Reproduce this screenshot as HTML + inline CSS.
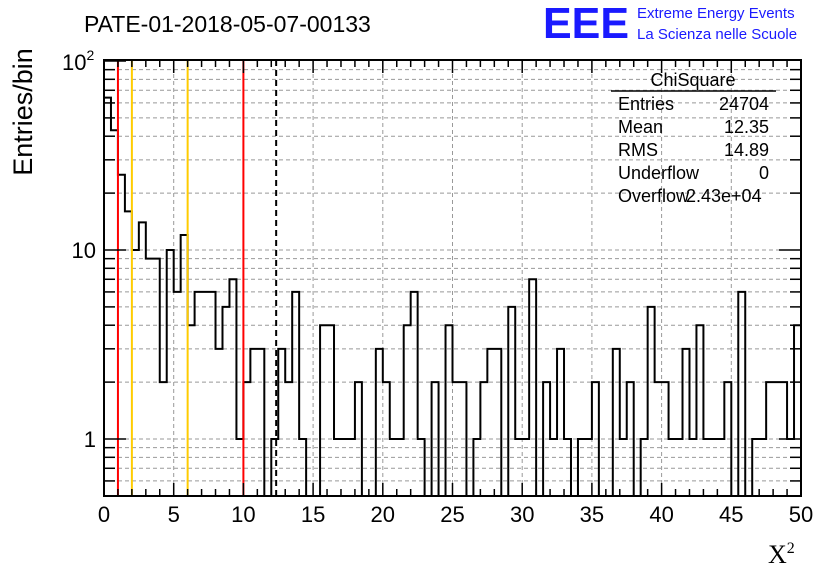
<!DOCTYPE html>
<html><head><meta charset="utf-8"><style>
body{margin:0;background:#fff;}
svg{display:block;font-family:"Liberation Sans",sans-serif;}
</style></head><body>
<svg id="c" width="836" height="572">
<text x="84" y="32" font-size="23">PATE-01-2018-05-07-00133</text>
<g>
<text x="543" y="38" font-size="44" font-weight="bold" fill="#1a1aff" textLength="86" lengthAdjust="spacingAndGlyphs">EEE</text>
<text x="637" y="18" font-size="15" fill="#1a1aff">Extreme Energy Events</text>
<text x="637" y="39" font-size="15" fill="#1a1aff">La Scienza nelle Scuole</text>
</g>
<text transform="translate(32,112) rotate(-90)" text-anchor="middle" font-size="27">Entries/bin</text>
<text x="768" y="563" font-size="26" font-family="Liberation Serif,serif">X<tspan font-size="16" dy="-10">2</tspan></text>
<g id="grid"></g><g id="marks"></g><g id="axes"></g>
<g font-size="18">
<text x="693" y="86" text-anchor="middle">ChiSquare</text>
<line x1="611" y1="91" x2="776" y2="91" stroke="#000" stroke-width="1.5"/>
<text x="618" y="110">Entries</text><text x="769" y="110" text-anchor="end">24704</text>
<text x="618" y="133">Mean</text><text x="769" y="133" text-anchor="end">12.35</text>
<text x="618" y="156">RMS</text><text x="769" y="156" text-anchor="end">14.89</text>
<text x="618" y="179">Underflow</text><text x="769" y="179" text-anchor="end">0</text>
<text x="618" y="202">Overflow</text><text x="686" y="202">2.43e+04</text>
</g>
</svg>
<script>
const counts=[64,43,25,16,10,14,9,9,2,10,6,12,4,6,6,6,3,5,7,1,2,3,3,0,1,3,2,6,1,0,0,4,4,1,1,1,2,0,0,3,2,1,1,4,6,1,0,2,0,4,2,2,0,1,2,3,3,0,5,1,1,7,0,2,1,3,1,0,1,1,2,0,0,3,1,2,0,1,5,2,2,1,1,3,1,4,1,1,1,2,0,6,0,1,1,2,2,2,1,4];
const xTicks=[0,5,10,15,20,25,30,35,40,45,50];
const redLines=[1,10];
const orangeLines=[2,6];
const meanLine=[12.35];
const NS="http://www.w3.org/2000/svg";
const L=104,R=801,T=60,B=496,XMAX=50,YMIN=0.5;
const xs=v=>L+(R-L)*v/XMAX;
const ys=v=>439-189*Math.log10(Math.max(v,YMIN));
function mk(tag,attrs,parent){const e=document.createElementNS(NS,tag);for(const k in attrs)e.setAttribute(k,attrs[k]);document.getElementById(parent).appendChild(e);return e;}
xTicks.slice(1,-1).forEach(t=>{const e=mk('line',{x1:xs(t),x2:xs(t),y1:T,y2:B,stroke:'#999','stroke-dasharray':'4,3'},'grid');

});
const yMinor=[0.6,0.7,0.8,0.9,1,2,3,4,5,6,7,8,9,10,20,30,40,50,60,70,80,90];
yMinor.forEach(v=>{const e=mk('line',{x1:L,x2:R,y1:ys(v),y2:ys(v),stroke:'#999','stroke-dasharray':'4,3'},'grid');

});
const bw=XMAX/counts.length;
let d='M'+xs(0)+','+B;
counts.forEach((c,i)=>{const y=c>0?ys(c):B;d+=' L'+xs(i*bw)+','+y+' L'+xs((i+1)*bw)+','+y;});
d+=' L'+xs(XMAX)+','+B;
const h=mk('path',{d:d,fill:'none',stroke:'#000','stroke-width':2},'marks');


redLines.forEach(v=>{const e=mk('line',{x1:xs(v),x2:xs(v),y1:T,y2:B,stroke:'#f00','stroke-width':2},'marks');

});
orangeLines.forEach(v=>{const e=mk('line',{x1:xs(v),x2:xs(v),y1:T,y2:B,stroke:'#fc0','stroke-width':2},'marks');

});
meanLine.forEach(v=>{const e=mk('line',{x1:xs(v),x2:xs(v),y1:T,y2:B,stroke:'#000','stroke-width':2,'stroke-dasharray':'6,4'},'marks');

});
const fr=mk('rect',{x:L,y:T,width:R-L,height:B-T,fill:'none',stroke:'#000','stroke-width':2},'axes');


for(let v=0;v<=XMAX;v++){const len=v%5===0?13:7;
mk('line',{x1:xs(v),x2:xs(v),y1:B,y2:B-len,stroke:'#000','stroke-width':1.5},'axes');
mk('line',{x1:xs(v),x2:xs(v),y1:T,y2:T+len,stroke:'#000','stroke-width':1.5},'axes');}
xTicks.forEach(t=>{const e=mk('text',{x:xs(t),y:522,'text-anchor':'middle','font-size':22},'axes');e.textContent=t;

});
yMinor.forEach(v=>{const major=(v===1||v===10);const len=major?22:11;
mk('line',{x1:L,x2:L+len,y1:ys(v),y2:ys(v),stroke:'#000','stroke-width':1.5},'axes');
mk('line',{x1:R,x2:R-len,y1:ys(v),y2:ys(v),stroke:'#000','stroke-width':1.5},'axes');});
[[1,'1'],[10,'10']].forEach(([v,s])=>{const e=mk('text',{x:96,y:ys(v)+8,'text-anchor':'end','font-size':22},'axes');e.textContent=s;

});
mk('line',{x1:L,x2:L+22,y1:ys(100),y2:ys(100),stroke:'#000','stroke-width':1.5},'axes');
const e100=mk('text',{x:62,y:ys(100)+9,'font-size':22},'axes');
e100.innerHTML='10<tspan font-size="14" dy="-10">2</tspan>';


</script>
</body></html>
